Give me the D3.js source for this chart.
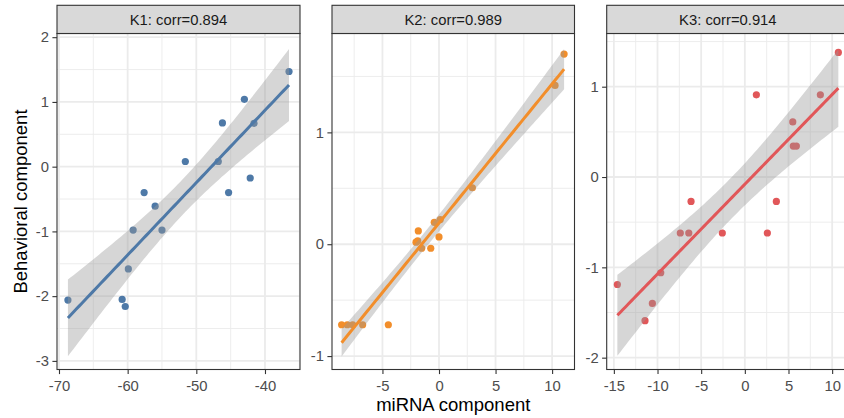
<!DOCTYPE html>
<html>
<head>
<meta charset="utf-8">
<script src="https://cdn.jsdelivr.net/npm/d3@7"></script>
<style>
  html, body { margin: 0; padding: 0; background: #ffffff; }
  svg { display: block; font-family: "Liberation Sans", Arial, Helvetica, sans-serif; }
</style>
</head>
<body>
<svg id="chart" width="844" height="418"></svg>
<script>
// ---------------- DATA ----------------
const panelTitles = ["K1: corr=0.894", "K2: corr=0.989", "K3: corr=0.914"];
const seriesColors = ["#4E79A7", "#F28E2B", "#E15759"];

const k1X = [-68.7, -60.8, -60.35, -59.9, -59.2, -57.6, -56.0, -55.0, -51.6, -46.8, -46.2, -45.3, -43.0, -42.15, -41.6, -36.5];
const k1Y = [-2.06, -2.05, -2.16, -1.58, -0.98, -0.40, -0.61, -0.98, 0.08, 0.08, 0.675, -0.40, 1.04, -0.175, 0.67, 1.47];

const k2X = [-8.61, -8.11, -7.63, -6.75, -4.48, -2.03, -1.83, -1.88, -1.53, -0.73, -0.42, 0.0, 0.11, 2.95, 10.26, 11.06];
const k2Y = [-0.72, -0.72, -0.72, -0.72, -0.72, 0.018, 0.119, 0.03, -0.036, -0.036, 0.196, 0.065, 0.22, 0.505, 1.42, 1.70];

const k3X = [-14.60, -11.43, -10.59, -9.63, -7.39, -6.42, -6.16, -2.58, 1.32, 2.58, 3.61, 5.49, 5.55, 5.90, 8.65, 10.71];
const k3Y = [-1.19, -1.59, -1.40, -1.06, -0.62, -0.62, -0.27, -0.62, 0.91, -0.62, -0.27, 0.61, 0.343, 0.343, 0.91, 1.38];

const k1XTicks = [-70, -60, -50, -40];
const k1YTicks = [-3, -2, -1, 0, 1, 2];
const k2XTicks = [-5, 0, 5, 10];
const k2YTicks = [-1, 0, 1];
const k3XTicks = [-15, -10, -5, 0, 5, 10];
const k3YTicks = [-2, -1, 0, 1];

const k1XMinor = [-65, -55, -45, -35];
const k1YMinor = [-2.5, -1.5, -0.5, 0.5, 1.5];
const k2XMinor = [-7.5, -2.5, 2.5, 7.5];
const k2YMinor = [-0.5, 0.5, 1.5];
const k3XMinor = [-12.5, -7.5, -2.5, 2.5, 7.5];
const k3YMinor = [-1.5, -0.5, 0.5, 1.5];

const xAxisTitle = "miRNA component";
const yAxisTitle = "Behavioral component";

// ---------------- LAYOUT ----------------
const panelTop = 33.5, panelBottom = 369.5, stripTop = 5.3;
const panels = [
  { left: 57,    right: 300,   xDom: [-70.29, -34.90], yDom: [-3.133, 2.057],
    xs: k1X, ys: k1Y, xt: k1XTicks, yt: k1YTicks, xm: k1XMinor, ym: k1YMinor },
  { left: 332,   right: 574.5, xDom: [-9.46, 11.98],   yDom: [-1.120, 1.884],
    xs: k2X, ys: k2Y, xt: k2XTicks, yt: k2YTicks, xm: k2XMinor, ym: k2YMinor },
  { left: 606.7, right: 849,   xDom: [-15.82, 11.93],  yDom: [-2.131, 1.589],
    xs: k3X, ys: k3Y, xt: k3XTicks, yt: k3YTicks, xm: k3XMinor, ym: k3YMinor }
];

const svg = d3.select("#chart");
svg.append("rect").attr("width", 844).attr("height", 418).attr("fill", "#ffffff");

const tCrit = 2.144787; // t(0.975, df=14)

function linFit(xs, ys) {
  const n = xs.length;
  const mx = d3.mean(xs), my = d3.mean(ys);
  let sxx = 0, sxy = 0;
  for (let i = 0; i < n; i++) { sxx += (xs[i]-mx)**2; sxy += (xs[i]-mx)*(ys[i]-my); }
  const b = sxy / sxx, a = my - b*mx;
  let sse = 0;
  for (let i = 0; i < n; i++) sse += (ys[i] - (a + b*xs[i]))**2;
  const s = Math.sqrt(sse / (n - 2));
  return { a, b, s, n, mx, sxx };
}

const tickFont = 14.8;

panels.forEach((p, idx) => {
  const x = d3.scaleLinear().domain(p.xDom).range([p.left, p.right]);
  const y = d3.scaleLinear().domain(p.yDom).range([panelBottom, panelTop]);
  const g = svg.append("g");
  const clipId = "clip" + idx;
  svg.append("clipPath").attr("id", clipId).append("rect")
    .attr("x", p.left).attr("y", panelTop).attr("width", p.right - p.left).attr("height", panelBottom - panelTop);
  const pg = g.append("g").attr("clip-path", `url(#${clipId})`);

  // minor grid
  pg.selectAll(".vmin").data(p.xm).join("line")
    .attr("x1", d => x(d)).attr("x2", d => x(d)).attr("y1", panelTop).attr("y2", panelBottom)
    .attr("stroke", "#EBEBEB").attr("stroke-width", 0.9);
  pg.selectAll(".hmin").data(p.ym).join("line")
    .attr("y1", d => y(d)).attr("y2", d => y(d)).attr("x1", p.left).attr("x2", p.right)
    .attr("stroke", "#EBEBEB").attr("stroke-width", 0.9);
  // major grid
  pg.selectAll(".vmaj").data(p.xt).join("line")
    .attr("x1", d => x(d)).attr("x2", d => x(d)).attr("y1", panelTop).attr("y2", panelBottom)
    .attr("stroke", "#EBEBEB").attr("stroke-width", 1.8);
  pg.selectAll(".hmaj").data(p.yt).join("line")
    .attr("y1", d => y(d)).attr("y2", d => y(d)).attr("x1", p.left).attr("x2", p.right)
    .attr("stroke", "#EBEBEB").attr("stroke-width", 1.8);

  const color = seriesColors[idx];
  const pts = p.xs.map((v, i) => ({ x: v, y: p.ys[i] }));

  // points
  pg.selectAll(".pt").data(pts).join("circle")
    .attr("cx", d => x(d.x)).attr("cy", d => y(d.y)).attr("r", 3.6)
    .attr("fill", color);

  // regression + CI
  const f = linFit(p.xs, p.ys);
  const [xmin, xmax] = d3.extent(p.xs);
  const grid = d3.range(80).map(i => xmin + (xmax - xmin) * i / 79);
  const band = grid.map(gx => {
    const yh = f.a + f.b * gx;
    const se = f.s * Math.sqrt(1 / f.n + (gx - f.mx) ** 2 / f.sxx);
    return { x: gx, y: yh, lo: yh - tCrit * se, hi: yh + tCrit * se };
  });
  pg.append("path").datum(band)
    .attr("d", d3.area().x(d => x(d.x)).y0(d => y(d.lo)).y1(d => y(d.hi)))
    .attr("fill", "#999999").attr("fill-opacity", 0.4);
  pg.append("path").datum(band)
    .attr("d", d3.line().x(d => x(d.x)).y(d => y(d.y)))
    .attr("fill", "none").attr("stroke", color).attr("stroke-width", 3);

  // panel border
  g.append("rect").attr("x", p.left).attr("y", panelTop)
    .attr("width", p.right - p.left).attr("height", panelBottom - panelTop)
    .attr("fill", "none").attr("stroke", "#333333").attr("stroke-width", 1.1);

  // strip
  g.append("rect").attr("x", p.left).attr("y", stripTop)
    .attr("width", p.right - p.left).attr("height", panelTop - stripTop)
    .attr("fill", "#D9D9D9").attr("stroke", "#333333").attr("stroke-width", 1.1);
  g.append("text").attr("x", (p.left + p.right) / 2).attr("y", 25.3)
    .attr("text-anchor", "middle").attr("font-size", tickFont).attr("fill", "#1A1A1A")
    .text(panelTitles[idx]);

  // axes
  const xa = g.append("g").attr("transform", `translate(0,${panelBottom})`)
    .call(d3.axisBottom(x).tickValues(p.xt).tickSize(4.6).tickPadding(6).tickFormat(d3.format("d")));
  const ya = g.append("g").attr("transform", `translate(${p.left},0)`)
    .call(d3.axisLeft(y).tickValues(p.yt).tickSize(4.6).tickPadding(3.4).tickFormat(d3.format("d")));
  [xa, ya].forEach(a => {
    a.select(".domain").remove();
    a.selectAll(".tick line").attr("stroke", "#333333").attr("stroke-width", 1.1);
    a.selectAll(".tick text").attr("fill", "#4D4D4D").attr("font-size", tickFont)
      .attr("font-family", "'Liberation Sans', Arial, sans-serif")
      .text(d => String(d).replace("\u2212", "-"));
  });
});

// axis titles
svg.append("text").attr("x", (panels[1].left + panels[1].right) / 2).attr("y", 410.7)
  .attr("text-anchor", "middle").attr("font-size", 18.5).attr("fill", "#000000")
  .text(xAxisTitle);
svg.append("text").attr("transform", `translate(26.6,${(panelTop + panelBottom) / 2}) rotate(-90)`)
  .attr("text-anchor", "middle").attr("font-size", 18.5).attr("fill", "#000000")
  .text(yAxisTitle);
</script>
</body>
</html>
